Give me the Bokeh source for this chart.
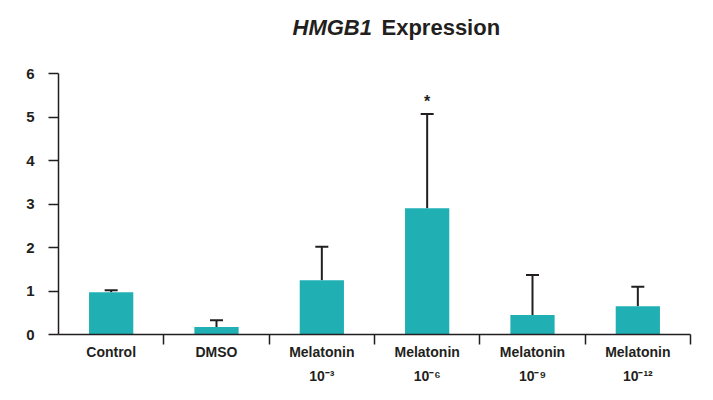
from bokeh.plotting import figure
from bokeh.models import ColumnDataSource, Whisker, TeeHead, FixedTicker
from bokeh.core.properties import value
from bokeh.embed import file_html
from bokeh.resources import INLINE

# ---- data ----
groups = ["Control", "DMSO", "Melatonin", "Melatonin", "Melatonin", "Melatonin"]
exponents = ["", "", "⁻³", "⁻⁶", "⁻⁹", "⁻¹²"]
means = [0.97, 0.17, 1.25, 2.90, 0.45, 0.65]
errors = [0.05, 0.16, 0.77, 2.17, 0.92, 0.45]
significant = [False, False, False, True, False, False]
y_ticks = [0, 1, 2, 3, 4, 5, 6]

BAR = "#20B0B4"
INK = "#231F20"
FONT = "Liberation Sans"

W, H = 705, 398
L, R, T, B = 58, 15, 10, 64
PLOT_TOP = 73          # pixel row of y = 6
Y_MAX = 6

n = len(means)
xs = [i + 0.5 for i in range(n)]
upper = [m + e for m, e in zip(means, errors)]
src = ColumnDataSource(dict(x=xs, top=means, upper=upper))

frame_h = H - T - B
y_end = Y_MAX * frame_h / (frame_h - (PLOT_TOP - T))

p = figure(width=W, height=H, x_range=(0, n), y_range=(0, y_end),
           output_backend="svg", toolbar_location=None,
           min_border_left=L, min_border_right=R,
           min_border_top=T, min_border_bottom=B)
p.outline_line_color = None
p.grid.visible = False

p.vbar(x="x", top="top", width=0.42, source=src, fill_color=BAR, line_color=None)

w = Whisker(base="x", lower="top", upper="upper", source=src,
            line_color=INK, line_width=2,
            upper_head=TeeHead(size=13, line_color=INK, line_width=2),
            lower_head=None)
p.add_layout(w)

# y axis
ya = p.yaxis[0]
ya.ticker = FixedTicker(ticks=y_ticks)
ya.bounds = (0, Y_MAX)
ya.axis_line_color = INK
ya.axis_line_width = 1.5
ya.major_tick_line_color = INK
ya.major_tick_line_width = 1.5
ya.major_tick_out = 10
ya.major_tick_in = 0
ya.minor_tick_line_color = None
ya.major_label_standoff = 14
ya.major_label_text_font = FONT
ya.major_label_text_font_style = "bold"
ya.major_label_text_font_size = "15px"
ya.major_label_text_color = INK

# x axis: labels at category centres, divider ticks between categories
xa = p.xaxis[0]
xa.ticker = FixedTicker(ticks=xs, minor_ticks=list(range(1, n + 1)))
xa.axis_line_color = INK
xa.axis_line_width = 1.5
xa.major_tick_line_color = None
xa.major_tick_out = 0
xa.major_tick_in = 0
xa.minor_tick_line_color = INK
xa.minor_tick_line_width = 1.5
xa.minor_tick_out = 10
xa.minor_tick_in = 0
xa.major_label_standoff = -1
xa.major_label_text_font = FONT
xa.major_label_text_font_style = "bold"
xa.major_label_text_font_size = "14px"
xa.major_label_text_color = INK
xa.major_label_text_line_height = 1.5
xa.major_label_overrides = {
    x: (g + ("\n10" + e if e else "")) for x, g, e in zip(xs, groups, exponents)
}

# significance marks
sig_x = [x for x, s in zip(xs, significant) if s]
sig_y = [u for u, s in zip(upper, significant) if s]
p.text(x=sig_x, y=sig_y, text=["*"] * len(sig_x), y_offset=-12,
       text_align="center", text_baseline="middle", text_font=value(FONT),
       text_font_style="bold", text_font_size="16px", text_color=INK)

# title with italic gene name (drawn in the headroom above y = 6)
p.text(x=[0], y=[Y_MAX], text=["HMGB1"], x_offset=234, y_offset=-46,
       text_align="left", text_baseline="alphabetic", text_font=value(FONT),
       text_font_style="bold italic", text_font_size="22px", text_color=INK)
p.text(x=[0], y=[Y_MAX], text=["Expression"], x_offset=323, y_offset=-46,
       text_align="left", text_baseline="alphabetic", text_font=value(FONT),
       text_font_style="bold", text_font_size="22px", text_color=INK)

open("out.html", "w").write(file_html(p, INLINE))
